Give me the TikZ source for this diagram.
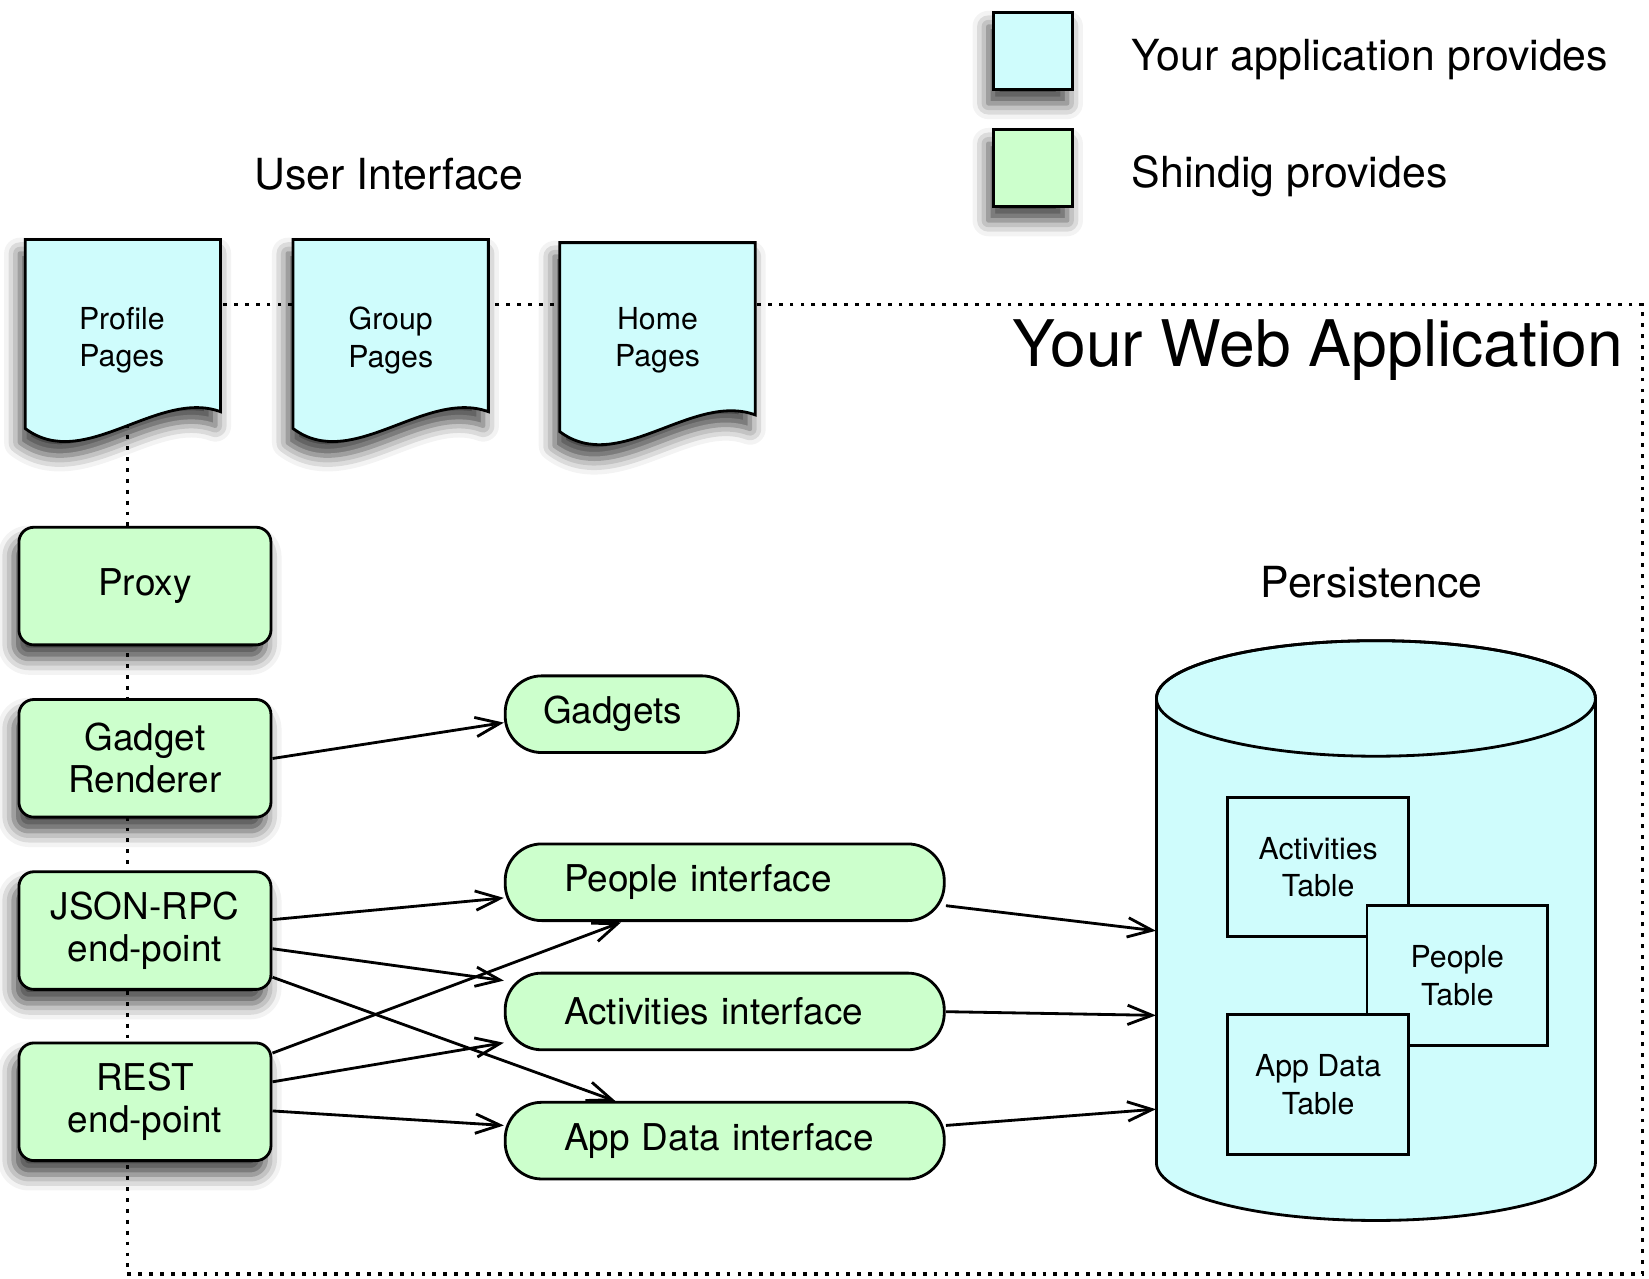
\documentclass[tikz,border=0pt]{standalone}
\usepackage{fontspec}
\setmainfont{TeX Gyre Heros}
\usepackage{tikz}
\definecolor{appblue}{RGB}{207,252,252}
\definecolor{shindig}{RGB}{204,255,204}
\usetikzlibrary{arrows.meta,shadows.blur}

\tikzset{
    dropshadow/.style={blur shadow={shadow xshift=-1.5pt,shadow yshift=-4pt,shadow blur radius=4.5pt,shadow opacity=75}},
    big/.style={font=\fontsize{11.6}{14}\selectfont},
    small/.style={font=\fontsize{8.2}{10.2}\selectfont, align=center},
    svc/.style={draw, fill=shindig, line width=0.8pt, rounded corners=0.15cm, minimum width=2.40cm, minimum height=1.12cm, align=center, font=\fontsize{10}{11.4}\selectfont, dropshadow},
    iface/.style={draw, fill=shindig, line width=0.8pt, rounded corners=0.365cm, minimum height=0.73cm, align=left, inner xsep=0.56cm, text width=3.06cm, font=\fontsize{10}{11.4}\selectfont},
    tbl/.style={draw, fill=appblue, line width=0.8pt, minimum width=1.72cm, minimum height=1.33cm, small},
    keybox/.style={draw, line width=0.8pt, minimum width=0.75cm, minimum height=0.73cm, inner sep=0, dropshadow},
    docpage/.style={fill=appblue, draw, line width=0.8pt, dropshadow},
    conn/.style={-{Straight Barb[length=7pt,width=5.5pt]}, line width=0.8pt}
}

\begin{document}
\begin{tikzpicture}[scale=1.0503, transform shape]
        \draw[line width=0.9pt, dash pattern=on 1.1pt off 2pt] (1.21,-2.90) rectangle (15.64,-12.13);
        \node[anchor=base east, inner sep=0, font=\fontsize{17.4}{20}\selectfont] (webapp) at (15.46,-3.49) {Your Web Application};

        \node[keybox, fill=appblue] (appkey) at (9.835,-0.485) {};
        \node[keybox, fill=shindig] (shindigkey) at (9.835,-1.60) {};
        \node[big, anchor=base west, inner sep=0] (applabel) at (10.77,-0.67) {Your application provides};
        \node[big, anchor=base west, inner sep=0] (shindiglabel) at (10.77,-1.79) {Shindig provides};

        \node[big, anchor=base, inner sep=0] (ui) at (3.70,-1.80) {User Interface};
        \foreach \x/\y in {0.24/-2.28,2.79/-2.28,5.33/-2.31}
            \filldraw[docpage] (\x,\y) -- ({\x+1.86},\y) -- ({\x+1.86},{\y-1.64})
                .. controls ({\x+1.26},{\y-1.42}) and ({\x+0.56},{\y-2.22}) .. (\x,{\y-1.80}) -- cycle;
        \node[small] (profile) at (1.16,-3.24) {Profile\\Pages};
        \node[small] (group) at (3.72,-3.24) {Group\\Pages};
        \node[small] (home) at (6.26,-3.24) {Home\\Pages};

        \node[svc] (proxy) at (1.38,-5.58) {Proxy};
        \node[svc] (renderer) at (1.38,-7.22) {Gadget\\Renderer};
        \node[svc] (jsonrpc) at (1.38,-8.86) {JSON-RPC\\end-point};
        \node[svc] (rest) at (1.38,-10.49) {REST\\end-point};

        \node[iface, inner xsep=0.36cm, text width=1.50cm] (gadgets) at (5.92,-6.80) {Gadgets};
        \node[iface] (people) at (6.90,-8.40) {People interface};
        \node[iface] (activities) at (6.90,-9.63) {Activities interface};
        \node[iface] (appdata) at (6.90,-10.86) {App Data interface};

        \node[big, anchor=base, inner sep=0] (persistence) at (13.06,-5.69) {Persistence};
        \filldraw[fill=appblue, line width=0.8pt] (11.01,-6.65) -- (11.01,-11.07)
            arc[start angle=180, end angle=360, x radius=2.09, y radius=0.55] -- (15.19,-6.65)
            arc[start angle=0, end angle=180, x radius=2.09, y radius=0.55] -- cycle;
        \draw[line width=0.8pt] (13.10,-6.65) ellipse[x radius=2.09, y radius=0.55];
        \node[minimum width=4.18cm, minimum height=5.52cm, inner sep=0] (db) at (13.10,-8.86) {};

        \node[tbl] (acttable) at (12.55,-8.255) {Activities\\Table};
        \node[tbl] (peopletable) at (13.875,-9.29) {People\\Table};
        \node[tbl] (datatable) at (12.55,-10.325) {App Data\\Table};

        \draw[conn] (renderer.east) -- (gadgets.184);
        \draw[conn] (jsonrpc.5) -- (people.184);
        \draw[conn] (jsonrpc.-8) -- (activities.172);
        \draw[conn] (jsonrpc.-20) -- (appdata.160);
        \draw[conn] (rest.21) -- (people.201);
        \draw[conn] (rest.9) -- (activities.188);
        \draw[conn] (rest.-4) -- (appdata.176);
        \draw[conn] (people.-6) -- (db.west);
        \draw[conn] (activities.east) -- (db.201);
        \draw[conn] (appdata.4) -- (db.219);

        \pgfresetboundingbox
        \path[use as bounding box] (0,0) rectangle (15.70,-12.177);
    \end{tikzpicture}
\end{document}
